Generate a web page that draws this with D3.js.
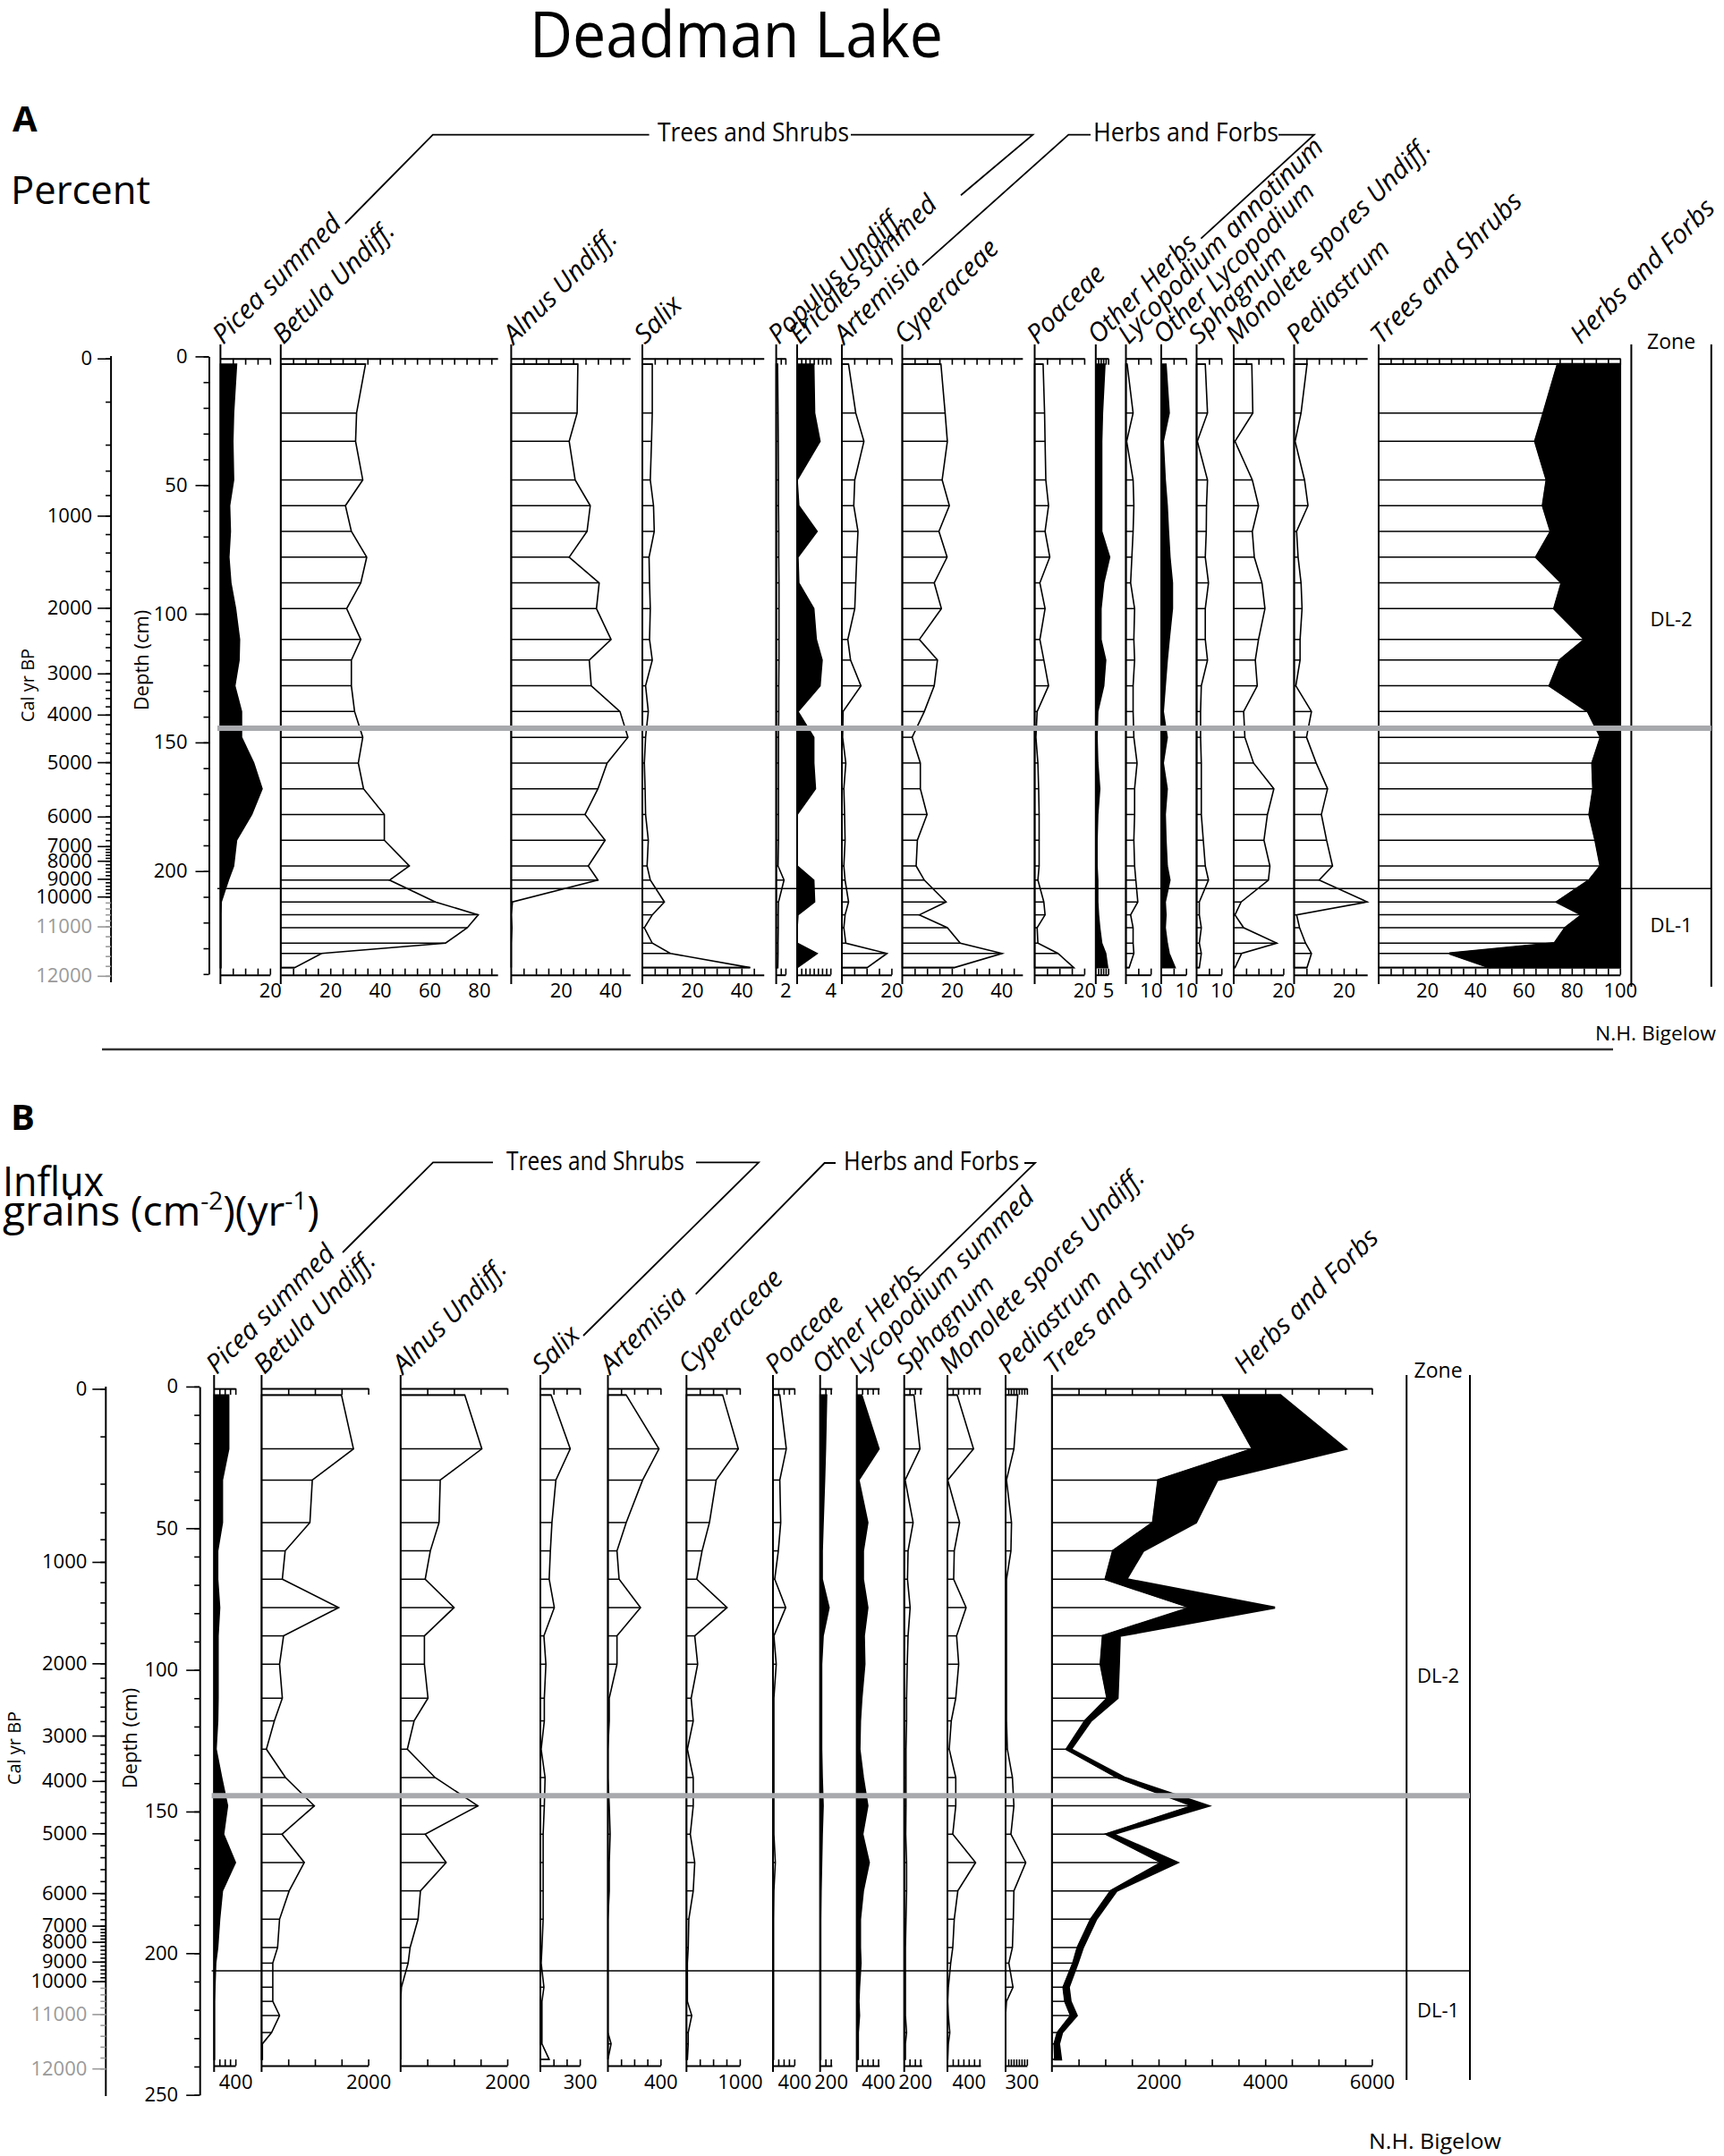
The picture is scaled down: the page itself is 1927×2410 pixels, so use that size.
<!DOCTYPE html>
<html>
<head>
<meta charset="utf-8">
<script src="https://cdn.jsdelivr.net/npm/d3@7"></script>
<style>
  body { margin: 0; background: #fff; }
  svg text { font-family: "Open Sans", "Noto Sans", sans-serif; }
</style>
</head>
<body>
<svg id="chart" width="1927" height="2410"></svg>
<script>
// sample depths (cm), shared by both panels
const depthsCm = [3, 22, 33, 48, 58, 68, 78, 88, 98, 110, 118, 128, 138, 148, 158, 168, 178, 188, 198, 203.5, 212, 217, 222, 228, 232, 237.5]

// age-depth model
const ageKnotsYr = [0, 200, 400, 600, 800, 1000, 2000, 3000, 4000, 5000, 6000, 7000, 8000, 9000, 10000, 11000, 12000]
const ageKnotDepthCm = [0.8, 17.6, 34.3, 44.4, 53.9, 61.9, 97.7, 123.2, 139.2, 157.7, 178.8, 190.3, 196.0, 203.0, 209.9, 221.5, 240.7]
const ageLabels = [0, 1000, 2000, 3000, 4000, 5000, 6000, 7000, 8000, 9000, 10000, 11000, 12000]

// Panel A, percent
const piceaPct = [6.5, 5.3, 5, 5.3, 3.7, 4, 3.4, 4.2, 6.1, 7.7, 7.5, 5.8, 8.5, 8.5, 13.4, 16.8, 12.6, 6.5, 5.3, 3.2, 0.3, 0.2, 0.2, 0.2, 0.2, 0.2]
const betulaPct = [34.2, 30.6, 30.2, 33.1, 26.1, 28.5, 34.7, 32.3, 26.6, 32.3, 28.5, 28.5, 29.8, 33.1, 31.3, 33.4, 41.8, 41.8, 51.9, 43.9, 62.4, 79.7, 75.3, 66.5, 16.5, 5.6]
const alnusPct = [26.9, 26.6, 23.4, 25.8, 31.9, 30.6, 23.4, 35.5, 34.4, 40.3, 31.5, 32.3, 43.9, 47.1, 38.7, 35, 29.8, 37.9, 31.1, 35, 0.5, 0, 0.3, 0, 0, 0]
const salixPct = [4, 4, 3.7, 3.2, 4.5, 4.8, 2.7, 2.9, 3.2, 2.9, 4, 1.3, 2.4, 1.3, 0.8, 1.1, 1.3, 2.4, 1.9, 3.2, 8.9, 4, 0.8, 4, 11.3, 43.5]
const populusPct = [0.3, 0.4, 0.45, 0.5, 0.5, 0.55, 0.55, 0.6, 0.6, 0.6, 0.6, 0.55, 0.55, 0.5, 0.5, 0.5, 0.5, 0.5, 0.4, 1.7, 0.5, 0.45, 0.45, 0.4, 0.4, 0.35]
const ericalesPct = [2.0, 2.1, 2.75, 0, 0.2, 2.4, 0.1, 0.2, 2.0, 2.3, 3.0, 2.75, 0.1, 2.0, 2.0, 2.2, 0, 0, 0, 2.0, 2.1, 0.1, 0, 0, 2.4, 0]
const artemisiaPct = [2.7, 5.6, 8.9, 5.2, 4.8, 6.5, 6, 5.6, 5.2, 2.4, 3.5, 7.7, 0.5, 0.3, 1.6, 0.8, 1.1, 1.3, 0.8, 1.3, 2.7, 1.3, 0.8, 1.6, 18.2, 10.2]
const cyperaceaePct = [15.6, 17.3, 18.2, 16.1, 19, 14.8, 18.1, 12.9, 15.8, 6.9, 14.2, 12.9, 8.9, 4, 7.3, 7.3, 10, 6.1, 5.6, 8.9, 17.7, 6.9, 18.2, 23.4, 40.3, 21]
const poaceaePct = [3.4, 4, 4.2, 4.5, 5.6, 4.2, 6.1, 2.1, 4.2, 2.1, 3.7, 5.6, 1, 0.5, 1.3, 1.6, 1.8, 1.8, 1.8, 1.3, 3.7, 4.2, 1, 1.3, 9.4, 15.8]
const otherHerbsPct = [3.7, 2.7, 2.4, 2.4, 2.4, 2.4, 5.6, 3.2, 2.1, 2.1, 4, 3.2, 0.8, 0.5, 0.8, 1.6, 0.8, 0.5, 0.5, 0.8, 0.8, 1.1, 1.6, 2.4, 4, 4.8]
const lycoAnnotinumPct = [0.5, 2.9, 0.3, 2.9, 3.2, 2.9, 2.4, 1.9, 3.5, 3.2, 3.5, 2.9, 2.9, 3.2, 4.5, 3.5, 3.5, 3.2, 3.5, 4, 4.8, 1.9, 2.9, 2.9, 3.2, 1.3]
const otherLycoPct = [1.9, 3.2, 0.8, 1.6, 2.4, 2.9, 3.5, 4.5, 4.5, 3.2, 2.4, 1.6, 0.8, 2.4, 0.8, 2.4, 1.6, 1.9, 2.4, 3.5, 1.6, 1.9, 1.6, 2.4, 3.2, 5.6]
const sphagnumPct = [3.5, 4.4, 0.3, 4.4, 4, 3.9, 3.5, 4.8, 3.5, 3.5, 4.4, 1.9, 1.6, 1.6, 1.9, 1.9, 1.9, 2.7, 3.5, 4.8, 1.1, 1.1, 1.9, 1.1, 1.9, 1.1]
const monoletePct = [7.3, 7.7, 0.5, 7.5, 10, 7.5, 8.3, 11.4, 12.6, 10, 8.7, 9.5, 4, 4.5, 8, 16.2, 13.6, 12.2, 14.6, 14, 3, 0.5, 4, 17.4, 3.2, 0.5]
const pediastrumPct = [5.2, 2.8, 0.4, 4.2, 5.6, 1, 1.6, 2.8, 3.2, 2.4, 2.4, 0.7, 7, 5, 8.9, 13.5, 11, 13.1, 15.5, 10.1, 29.5, 1, 2.2, 4.6, 7, 5.2]
const treesShrubsPct = [74.2, 68.3, 64.8, 69.6, 68, 71.3, 65.2, 75.8, 72.7, 85.4, 75.1, 70.8, 86.7, 92, 88.5, 88.9, 87.3, 89.8, 91.9, 87.3, 73.8, 84.2, 77.3, 72.9, 29.3, 46.1]
const herbsForbsPct = [25.8, 31.7, 35.2, 30.4, 32, 28.7, 34.8, 24.2, 27.3, 14.6, 24.9, 29.2, 13.3, 8, 11.5, 11.1, 12.7, 10.2, 8.1, 12.7, 26.2, 15.8, 22.7, 27.1, 70.7, 53.9]

// Panel B, influx grains cm-2 yr-1
const piceaInflux = [274, 274, 156, 156, 67, 67, 104, 74, 74, 74, 67, 37, 141, 252, 178, 400, 156, 104, 67, 30, 15, 7, 7, 7, 7, 7]
const betulaInflux = [1498, 1723, 951, 906, 442, 389, 1446, 412, 337, 389, 240, 90, 449, 989, 382, 801, 517, 337, 300, 210, 210, 210, 337, 187, 15, 15]
const alnusInflux = [1204, 1523, 743, 721, 557, 461, 1003, 446, 446, 513, 253, 126, 646, 1449, 461, 854, 372, 327, 178, 141, 15, 0, 0, 0, 0, 0]
const salixInflux = [82, 227, 118, 88, 76, 67, 106, 27, 42, 30, 30, 6, 36, 30, 21, 21, 21, 21, 12, 6, 27, 12, 12, 12, 12, 67]
const artemisiaInflux = [139, 388, 264, 139, 69, 85, 248, 69, 69, 10, 10, 0, 0, 10, 17, 10, 10, 0, 0, 0, 0, 0, 0, 0, 24, 0]
const cyperaceaeInflux = [679, 972, 558, 431, 293, 193, 762, 155, 210, 88, 127, 17, 127, 127, 72, 155, 127, 44, 33, 17, 17, 17, 99, 33, 33, 17]
const poaceaeInflux = [128, 250, 128, 145, 100, 33, 239, 17, 61, 17, 17, 17, 17, 17, 17, 44, 17, 11, 11, 11, 11, 11, 11, 11, 11, 11]
const otherHerbsInflux = [122, 100, 83, 56, 39, 39, 167, 56, 28, 28, 28, 28, 39, 56, 39, 28, 17, 11, 11, 11, 11, 11, 11, 11, 11, 11]
const lycoSummedInflux = [94, 417, 39, 206, 122, 122, 206, 139, 150, 94, 67, 56, 122, 206, 111, 233, 122, 67, 67, 78, 50, 39, 50, 28, 28, 28]
const sphagnumInflux = [183, 295, 17, 167, 72, 61, 111, 72, 56, 44, 44, 33, 33, 33, 28, 44, 44, 33, 22, 22, 22, 22, 22, 44, 22, 22]
const monoleteInflux = [183, 489, 6, 228, 128, 117, 350, 172, 211, 156, 72, 33, 156, 156, 100, 528, 195, 128, 100, 61, 17, 6, 17, 44, 17, 6]
const pediastrumInflux = [228, 156, 17, 111, 100, 17, 17, 17, 17, 17, 17, 33, 128, 156, 100, 378, 156, 145, 128, 61, 139, 17, 0, 0, 0, 0]
const treesInflux = [3201, 3766, 1995, 1895, 1147, 1005, 2602, 956, 914, 1039, 623, 274, 1230, 2644, 1022, 2062, 1105, 731, 482, 399, 216, 249, 357, 107, 49, 60]
const herbsInflux = [1081, 1746, 1106, 807, 565, 391, 1580, 316, 341, 191, 108, 83, 125, 291, 125, 291, 108, 100, 99, 83, 99, 100, 108, 83, 83, 110]

const svg = d3.select('#chart')
const FONT = '"Open Sans", "Noto Sans", sans-serif'

const panelA = {
	y0: 398.4, pxPerCm: 2.8766, depthMax: 240, depthTicksMax: 240,
	topDepth: 0.8, botDepth: 240.3, lineTop: 385, lineBottom: 1100,
	depthAxisX: 233.5, ageAxisX: 124.1, ageLineTop: 398, ageLineBottom: 1098,
	depthTitle: [166, 738], ageTitle: [38, 766],
	grayDepth: 144.5, zoneDepth: 206.8, hLineX: [243, 1912.8],
	zone: { x0: 1823.4, x1: 1912.8, top: 385, bottom: 1103, labelY: 390, dl2: 700, dl1: 1042 },
	herbsLabelX: 1767
}
const panelB = {
	y0: 1549.9, pxPerCm: 3.167, depthMax: 250, depthTicksMax: 250,
	topDepth: 0.7, botDepth: 239.7, lineTop: 1537, lineBottom: 2316,
	depthAxisX: 223.2, ageAxisX: 118.3, ageLineTop: 1550, ageLineBottom: 2343,
	depthTitle: [153, 1943], ageTitle: [23, 1954],
	grayDepth: 144.4, zoneDepth: 206.2, hLineX: [236.6, 1643],
	zone: { x0: 1572.2, x1: 1643, top: 1537, bottom: 2325, labelY: 1540, dl2: 1881, dl1: 2255 },
	herbsLabelX: 1391
}

const columnsA = [
	{ label: 'Picea summed', values: piceaPct, x0: 246.4, max: 20, px: 2.77, style: 'fill', step: 5, labels: [20] },
	{ label: 'Betula Undiff.', values: betulaPct, x0: 313.8, max: 87.5, px: 2.77, style: 'bars', step: 5, labels: [20, 40, 60, 80] },
	{ label: 'Alnus Undiff.', values: alnusPct, x0: 571.4, max: 48, px: 2.77, style: 'bars', step: 5, labels: [20, 40] },
	{ label: 'Salix', values: salixPct, x0: 718, max: 49, px: 2.77, style: 'bars', step: 5, labels: [20, 40] },
	{ label: 'Populus Undiff.', values: populusPct, x0: 867.6, max: 2, px: 5.15, style: 'bars', step: 1, labels: [2] },
	{ label: 'Ericales summed', values: ericalesPct, x0: 891, max: 4, px: 9.3, style: 'fill', step: 0.5, labels: [4] },
	{ label: 'Artemisia', values: artemisiaPct, x0: 941, max: 20, px: 2.77, style: 'bars', step: 5, labels: [20] },
	{ label: 'Cyperaceae', values: cyperaceaePct, x0: 1008.5, max: 48.5, px: 2.77, style: 'bars', step: 5, labels: [20, 40] },
	{ label: 'Poaceae', values: poaceaePct, x0: 1156.5, max: 20, px: 2.77, style: 'bars', step: 5, labels: [20] },
	{ label: 'Other Herbs', values: otherHerbsPct, x0: 1224.8, max: 5, px: 2.77, style: 'fill', step: 1, labels: [5] },
	{ label: 'Lycopodium annotinum', values: lycoAnnotinumPct, x0: 1258.5, max: 10, px: 2.77, style: 'bars', step: 5, labels: [10] },
	{ label: 'Other Lycopodium', values: otherLycoPct, x0: 1298, max: 10, px: 2.77, style: 'fill', step: 5, labels: [10] },
	{ label: 'Sphagnum', values: sphagnumPct, x0: 1337.5, max: 10, px: 2.77, style: 'bars', step: 5, labels: [10] },
	{ label: 'Monolete spores Undiff.', values: monoletePct, x0: 1379, max: 20, px: 2.77, style: 'bars', step: 5, labels: [20] },
	{ label: 'Pediastrum', values: pediastrumPct, x0: 1446.5, max: 29.5, px: 2.77, style: 'bars', step: 5, labels: [20] }
]
const summaryA = { trees: treesShrubsPct, herbs: herbsForbsPct, x0: 1541, max: 100, px: 2.698, step: 5, labels: [20, 40, 60, 80, 100] }

const columnsB = [
	{ label: 'Picea summed', values: piceaInflux, x0: 239.3, max: 400, px: 0.0596, style: 'fill', step: 100, labels: [400] },
	{ label: 'Betula Undiff.', values: betulaInflux, x0: 292.4, max: 2000, px: 0.0596, style: 'bars', step: 500, labels: [2000] },
	{ label: 'Alnus Undiff.', values: alnusInflux, x0: 447.8, max: 2000, px: 0.0596, style: 'bars', step: 500, labels: [2000] },
	{ label: 'Salix', values: salixInflux, x0: 604, max: 300, px: 0.147, style: 'bars', step: 100, labels: [300] },
	{ label: 'Artemisia', values: artemisiaInflux, x0: 679.5, max: 400, px: 0.147, style: 'bars', step: 100, labels: [400] },
	{ label: 'Cyperaceae', values: cyperaceaeInflux, x0: 767.3, max: 1000, px: 0.0596, style: 'bars', step: 250, labels: [1000] },
	{ label: 'Poaceae', values: poaceaeInflux, x0: 864, max: 400, px: 0.0596, style: 'bars', step: 100, labels: [400] },
	{ label: 'Other Herbs', values: otherHerbsInflux, x0: 916.7, max: 220, px: 0.0596, style: 'fill', step: 100, labels: [200] },
	{ label: 'Lycopodium summed', values: lycoSummedInflux, x0: 957.7, max: 420, px: 0.0596, style: 'fill', step: 100, labels: [400] },
	{ label: 'Sphagnum', values: sphagnumInflux, x0: 1010.7, max: 330, px: 0.0596, style: 'bars', step: 100, labels: [200] },
	{ label: 'Monolete spores Undiff.', values: monoleteInflux, x0: 1059, max: 620, px: 0.0596, style: 'bars', step: 100, labels: [400] },
	{ label: 'Pediastrum', values: pediastrumInflux, x0: 1124, max: 400, px: 0.0596, style: 'bars', step: 50, labels: [300] }
]
const summaryB = { trees: treesInflux, herbs: herbsInflux, x0: 1175.8, max: 6000, px: 0.0596, step: 500, labels: [2000, 4000, 6000] }

function styleAxis(g, size) {
	g.attr('font-family', FONT).attr('font-size', size)
	g.selectAll('path.domain').attr('stroke-width', 2)
	g.selectAll('.tick line').attr('stroke-width', 1.6)
}

function columnAxes(g, x, col, yTop, yBot) {
	const ticks = d3.range(col.step, col.max + 1e-6, col.step)
	g.append('g')
		.attr('transform', `translate(0,${yTop})`)
		.call(d3.axisBottom(x).tickValues(ticks).tickSize(7).tickSizeOuter(0).tickFormat(''))
		.call(styleAxis, 22)
	g.append('g')
		.attr('transform', `translate(0,${yBot})`)
		.call(d3.axisBottom(x).tickValues(ticks.concat(col.labels.filter(v => !ticks.includes(v))))
			.tickSize(-7).tickSizeOuter(0).tickPadding(10)
			.tickFormat(d => col.labels.includes(d) ? d : ''))
		.call(styleAxis, 22)
}

function zeroLine(g, x, p) {
	g.append('line')
		.attr('x1', x(0)).attr('x2', x(0))
		.attr('y1', p.lineTop).attr('y2', p.lineBottom)
		.attr('stroke', '#000').attr('stroke-width', 2)
}

function columnLabel(g, text, x, y) {
	g.append('text')
		.attr('transform', `translate(${x},${y}) rotate(-45)`)
		.attr('font-size', 29.5).attr('font-style', 'italic')
		.text(text)
}

function drawPanel(p, columns, summary) {
	const g = svg.append('g')
	const y = d3.scaleLinear().domain([0, p.depthMax]).range([p.y0, p.y0 + p.depthMax * p.pxPerCm])
	const yTop = y(p.topDepth)
	const yBot = y(p.botDepth)

	// depth axis
	g.append('g')
		.attr('transform', `translate(${p.depthAxisX},0)`)
		.call(d3.axisLeft(y).tickValues(d3.range(0, p.depthTicksMax + 1, 10)).tickSize(6).tickSizeOuter(0).tickFormat(''))
		.call(styleAxis, 22)
	g.append('g')
		.attr('transform', `translate(${p.depthAxisX},0)`)
		.call(d3.axisLeft(y).tickValues(d3.range(0, p.depthTicksMax + 1, 50)).tickSize(15).tickSizeOuter(0).tickPadding(9))
		.call(styleAxis, 22)
		.call(a => a.select('.domain').remove())
	g.append('text')
		.attr('transform', `translate(${p.depthTitle[0]},${p.depthTitle[1]}) rotate(-90)`)
		.attr('text-anchor', 'middle').attr('font-size', 22)
		.text('Depth (cm)')

	// age axis
	const age = d3.scaleLinear().domain(ageKnotsYr).range(ageKnotDepthCm.map(y))
	g.append('line')
		.attr('x1', p.ageAxisX).attr('x2', p.ageAxisX)
		.attr('y1', p.ageLineTop).attr('y2', p.ageLineBottom)
		.attr('stroke', '#000').attr('stroke-width', 2)
	g.append('g')
		.attr('transform', `translate(${p.ageAxisX},0)`)
		.call(d3.axisLeft(age).tickValues(d3.range(0, 12001, 200)).tickSize(6).tickSizeOuter(0).tickFormat(''))
		.call(styleAxis, 22)
		.call(a => a.select('.domain').remove())
		.call(a => a.selectAll('.tick').filter(d => d > 10000).attr('color', '#9a9a9a'))
	g.append('g')
		.attr('transform', `translate(${p.ageAxisX},0)`)
		.call(d3.axisLeft(age).tickValues(ageLabels).tickSize(15).tickSizeOuter(0).tickPadding(6).tickFormat(d3.format('d')))
		.call(styleAxis, 22)
		.call(a => a.select('.domain').remove())
		.call(a => a.selectAll('.tick').filter(d => d > 10000).attr('color', '#9a9a9a'))
	g.append('text')
		.attr('transform', `translate(${p.ageTitle[0]},${p.ageTitle[1]}) rotate(-90)`)
		.attr('text-anchor', 'middle').attr('font-size', 20)
		.text('Cal yr BP')

	// taxa
	columns.forEach(col => {
		const x = d3.scaleLinear().domain([0, col.max]).range([col.x0, col.x0 + col.max * col.px])
		const rows = depthsCm.map((d, i) => ({ depth: d, v: col.values[i] }))
		const cg = g.append('g')
		const area = d3.area().y(d => y(d.depth)).x0(x(0)).x1(d => x(d.v))
		cg.append('path').datum(rows)
			.attr('d', area)
			.attr('fill', col.style === 'fill' ? '#000' : '#fff')
			.attr('stroke', '#000').attr('stroke-width', 1.6).attr('stroke-linejoin', 'miter')
		if (col.style === 'bars') {
			cg.selectAll('line.bar').data(rows).join('line')
				.attr('class', 'bar')
				.attr('x1', x(0)).attr('x2', d => x(d.v))
				.attr('y1', d => y(d.depth)).attr('y2', d => y(d.depth))
				.attr('stroke', '#000').attr('stroke-width', 1.5)
		}
		zeroLine(cg, x, p)
		columnAxes(cg, x, col, yTop, yBot)
		columnLabel(cg, col.label, col.x0 + 3, yTop - 15)
	})

	// summary: trees and shrubs (hatched) + herbs and forbs (black, stacked)
	const sx = d3.scaleLinear().domain([0, summary.max]).range([summary.x0, summary.x0 + summary.max * summary.px])
	const srows = depthsCm.map((d, i) => ({ depth: d, t: summary.trees[i], h: summary.herbs[i] }))
	const sg = g.append('g')
	sg.append('path').datum(srows)
		.attr('d', d3.area().y(d => y(d.depth)).x0(sx(0)).x1(d => sx(d.t)))
		.attr('fill', '#fff').attr('stroke', '#000').attr('stroke-width', 1.6)
	sg.selectAll('line.bar').data(srows).join('line')
		.attr('class', 'bar')
		.attr('x1', sx(0)).attr('x2', d => sx(d.t))
		.attr('y1', d => y(d.depth)).attr('y2', d => y(d.depth))
		.attr('stroke', '#000').attr('stroke-width', 1.5)
	sg.append('path').datum(srows)
		.attr('d', d3.area().y(d => y(d.depth)).x0(d => sx(d.t)).x1(d => sx(d.t + d.h)))
		.attr('fill', '#000').attr('stroke', '#000').attr('stroke-width', 2.5)
	zeroLine(sg, sx, p)
	columnAxes(sg, sx, summary, yTop, yBot)
	columnLabel(sg, 'Trees and Shrubs', summary.x0 + 3, yTop - 15)
	columnLabel(sg, 'Herbs and Forbs', p.herbsLabelX, yTop - 15)

	// zone column
	const z = p.zone
	;[z.x0, z.x1].forEach(zx => g.append('line')
		.attr('x1', zx).attr('x2', zx).attr('y1', z.top).attr('y2', z.bottom)
		.attr('stroke', '#000').attr('stroke-width', 2))
	const zc = (z.x0 + z.x1) / 2
	g.append('text').attr('x', zc).attr('y', z.labelY).attr('text-anchor', 'middle')
		.attr('font-size', 24).attr('textLength', 54).attr('lengthAdjust', 'spacingAndGlyphs').text('Zone')
	g.append('text').attr('x', zc).attr('y', z.dl2).attr('text-anchor', 'middle').attr('font-size', 22).text('DL-2')
	g.append('text').attr('x', zc).attr('y', z.dl1).attr('text-anchor', 'middle').attr('font-size', 22).text('DL-1')

	// zone boundaries
	g.append('line')
		.attr('x1', p.hLineX[0]).attr('x2', p.hLineX[1])
		.attr('y1', y(p.grayDepth)).attr('y2', y(p.grayDepth))
		.attr('stroke', '#a7a9ac').attr('stroke-width', 6)
	g.append('line')
		.attr('x1', p.hLineX[0]).attr('x2', p.hLineX[1])
		.attr('y1', y(p.zoneDepth)).attr('y2', y(p.zoneDepth))
		.attr('stroke', '#000').attr('stroke-width', 1.5)
}

function groupHeader(text, x, y, len, left, right) {
	const line = d3.line()
	;[left, right].forEach(pts => svg.append('path')
		.attr('d', line(pts)).attr('fill', 'none').attr('stroke', '#000').attr('stroke-width', 1.8))
	svg.append('text').attr('x', x).attr('y', y).attr('font-size', 29)
		.attr('textLength', len).attr('lengthAdjust', 'spacingAndGlyphs').text(text)
}

drawPanel(panelA, columnsA, summaryA)
drawPanel(panelB, columnsB, summaryB)

// titles and headings
svg.append('text').attr('x', 592).attr('y', 64).attr('font-size', 72)
	.attr('textLength', 462).attr('lengthAdjust', 'spacingAndGlyphs').text('Deadman Lake')
svg.append('text').attr('x', 14).attr('y', 147).attr('font-size', 40).attr('font-weight', 'bold').text('A')
svg.append('text').attr('x', 12).attr('y', 228).attr('font-size', 44)
	.attr('textLength', 156).attr('lengthAdjust', 'spacingAndGlyphs').text('Percent')
svg.append('text').attr('x', 12).attr('y', 1263).attr('font-size', 40).attr('font-weight', 'bold').text('B')
svg.append('text').attr('x', 3).attr('y', 1337).attr('font-size', 46)
	.attr('textLength', 113).attr('lengthAdjust', 'spacingAndGlyphs').text('Influx')
const grains = svg.append('text').attr('x', 3).attr('y', 1370).attr('font-size', 46)
grains.append('tspan').text('grains (cm')
grains.append('tspan').attr('font-size', 28).attr('dy', -18).text('-2')
grains.append('tspan').attr('dy', 18).text(')(yr')
grains.append('tspan').attr('font-size', 28).attr('dy', -18).text('-1')
grains.append('tspan').attr('dy', 18).text(')')

groupHeader('Trees and Shrubs', 735, 158, 214,
	[[385.8, 250], [483.8, 150.7], [725.6, 150.7]],
	[[951, 150.7], [1154.3, 150.7], [1074, 218.3]])
groupHeader('Herbs and Forbs', 1222, 158, 207,
	[[1030.9, 296.7], [1194.3, 150.7], [1219, 150.7]],
	[[1429, 150.7], [1468.8, 150.7], [1342.4, 266.7]])
groupHeader('Trees and Shrubs', 566, 1308, 199,
	[[383, 1400], [484, 1299.3], [551, 1299.3]],
	[[778, 1299.3], [848, 1299.3], [652, 1493]])
groupHeader('Herbs and Forbs', 943, 1308, 196,
	[[777.7, 1446.7], [921.6, 1300], [934, 1300]],
	[[1145, 1300], [1157, 1300], [1027.8, 1426.7]])

// credits and separator
svg.append('text').attr('x', 1783).attr('y', 1163).attr('font-size', 22)
	.attr('textLength', 135).attr('lengthAdjust', 'spacingAndGlyphs').text('N.H. Bigelow')
svg.append('line').attr('x1', 114).attr('x2', 1803).attr('y1', 1173).attr('y2', 1173)
	.attr('stroke', '#333').attr('stroke-width', 2.5)
svg.append('text').attr('x', 1530).attr('y', 2402).attr('font-size', 24)
	.attr('textLength', 148).attr('lengthAdjust', 'spacingAndGlyphs').text('N.H. Bigelow')
</script>
</body>
</html>
